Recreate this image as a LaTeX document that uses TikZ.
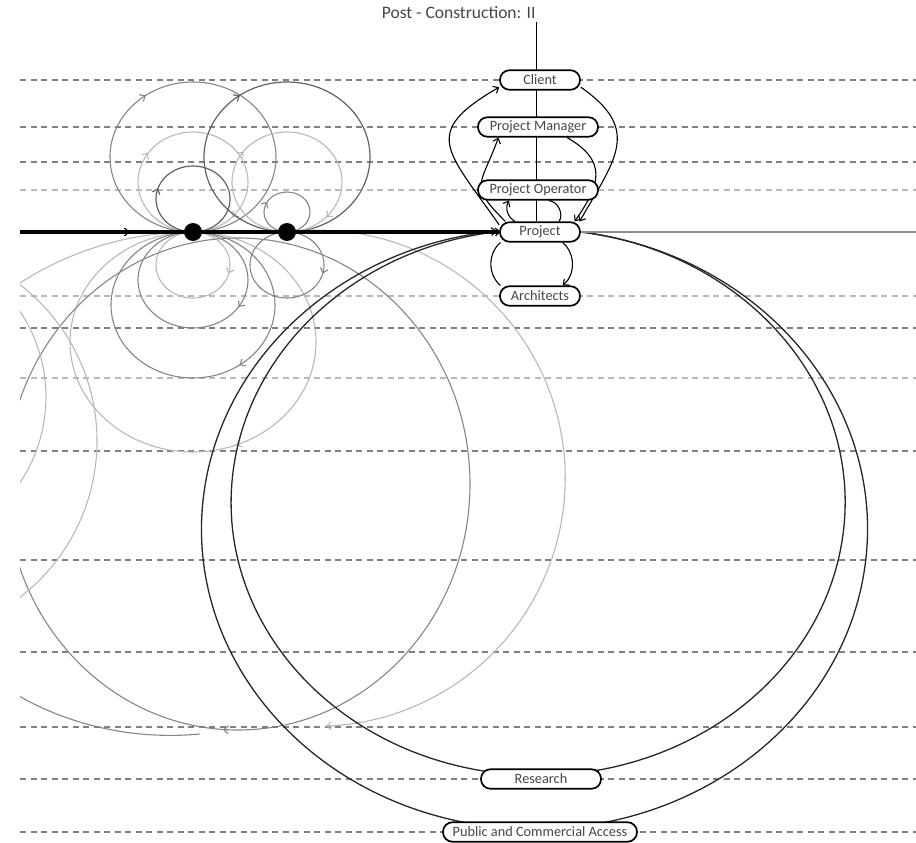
\documentclass[tikz,border=0pt]{standalone}
\usepackage{fontspec}
\setmainfont{Carlito}
\usetikzlibrary{arrows.meta,decorations.markings,backgrounds}
\definecolor{inkgray}{RGB}{70,70,70}

\tikzset{
  actor/.style={draw, line width=1.7pt, fill=white, rounded corners=9.5pt,
    minimum height=19.5pt, inner sep=0pt, text=inkgray,
    font=\fontsize{14.3}{14.3}\selectfont},
  dot/.style={circle, fill=black, minimum size=18pt, inner sep=0pt},
  guide/.style={dash pattern=on 6pt off 4.5pt, line width=1.4pt},
  link/.style={line width=1.1pt},
  tip/.style={-{Straight Barb[length=4.5pt,width=8pt]}},
  flow/.style={postaction=decorate, decoration={markings,
    mark=at position #1 with {\arrow{Straight Barb[length=4.5pt,width=8pt]}}}},
  flows/.style 2 args={postaction=decorate, decoration={markings,
    mark=at position #1 with {\arrow{Straight Barb[length=4.5pt,width=8pt]}},
    mark=at position #2 with {\arrow{Straight Barb[length=4.5pt,width=8pt]}}}},
  faint/.style={draw=black!28, line width=1.1pt},
  soft/.style={draw=black!48, line width=1.1pt},
  firm/.style={draw=black!62, line width=1.2pt}
}

\begin{document}
\begin{tikzpicture}[x=1pt,y=1pt]
\useasboundingbox (0,0) rectangle (916,-843);

% title and stakeholders
\node[font=\fontsize{17.5}{17.5}\selectfont, text=inkgray, anchor=east] (ttl) at (539,-13) {Post - Construction: II};
\node[actor, minimum width=80pt]  (cli)  at (540,-80)  {Client};
\node[actor, minimum width=120pt] (pm)   at (538,-127) {Project Manager};
\node[actor, minimum width=120pt] (po)   at (538,-190) {Project Operator};
\node[actor, minimum width=80pt]  (prj)  at (540,-232) {Project};
\node[actor, minimum width=80pt]  (arch) at (540,-296) {Architects};
\node[actor, minimum width=120pt] (res)  at (541,-779) {Research};
\node[actor, minimum width=194pt] (pub)  at (540,-832) {Public and Commercial Access};
\node[dot] (dA) at (193,-232) {};
\node[dot] (dB) at (287,-232) {};
\coordinate (lstart) at (20,-232);
\coordinate (rend) at (916,-232);
\coordinate (axtop) at (536,-22);
\coordinate (xtop) at (238,-238);

\begin{scope}[on background layer]
\clip (20,0) rectangle (916,-843);
% horizontal levels
\foreach \yy/\cc in {80/50,127/50,162/50,190/28,296/28,328/50,378/28,451/50,560/50,652/50,727/50,779/50,832/50}
  \draw[guide, black!\cc] (20,-\yy) -- (916,-\yy);

% loops above the timeline
\draw[soft, flow=0.40] (dA) arc[start angle=270, end angle=-90, x radius=83, y radius=75];
\draw[faint, flows={0.345}{0.87}] (dA) arc[start angle=270, end angle=-90, x radius=55, y radius=50];
\draw[firm, flow=0.30] (dA) arc[start angle=270, end angle=-90, x radius=37, y radius=33];
\draw[firm, flow=0.40] (dB) arc[start angle=270, end angle=-90, x radius=83, y radius=75];
\draw[faint, flows={0.35}{0.87}] (dB) arc[start angle=270, end angle=-90, x radius=55, y radius=50];
\draw[soft, flow=0.33] (dB) arc[start angle=270, end angle=-90, x radius=23, y radius=20];

% loops below the timeline
\draw[faint, flow=0.29] (dA) arc[start angle=90, end angle=-270, x radius=37, y radius=33];
\draw[soft, flow=0.34] (dA) arc[start angle=90, end angle=-270, x radius=55, y radius=48];
\draw[soft, flow=0.40] (dA) arc[start angle=90, end angle=-270, x radius=82, y radius=73];
\draw[faint, flow=0.44] (dA) arc[start angle=90, end angle=-270, x radius=123, y radius=110];
\draw[soft, flow=0.29] (dB) arc[start angle=90, end angle=-270, x radius=37, y radius=33];

% wide loops to the left
\draw[soft, flow=0.51] (xtop) arc[start angle=90, end angle=-270, x radius=232, y radius=246];
\draw[faint, tip] (dB) arc[start angle=97, end angle=-88, radius=248];
\draw[soft] (200,-734) arc[start angle=-84, end angle=-160, x radius=282, y radius=251];
\draw[faint] (dA) arc[start angle=90, end angle=130, radius=319];
\draw[faint] (-100,-441) ++(55:197) arc[start angle=55, end angle=-55, radius=197];
\draw[faint] (-108,-397) ++(35:154) arc[start angle=35, end angle=-35, radius=154];

% long cycles through research and public access
\draw[link, black!85, line width=1.3pt, tip] (prj.east) arc[start angle=82, end angle=-263, x radius=307, y radius=273];
\draw[link, black!85, line width=1.3pt, tip] (prj.east) arc[start angle=82, end angle=-263.5, x radius=333, y radius=300];
\end{scope}

\begin{scope}[on background layer]
\draw[line width=0.9pt] (axtop) -- (axtop |- prj.north);
% cycles around the project
\draw[link, tip] (prj.170) to[out=125, in=210, looseness=1.7] (cli.190);
\draw[link, tip] (cli.-10) to[out=-35, in=60, looseness=1.4] (prj.15);
\draw[link, tip] (prj.163) to[out=135, in=250, looseness=1.6] (pm.195);
\draw[link, tip] (pm.-20) to[out=-30, in=55, looseness=1.4] (prj.17);
\draw[link, tip] (prj.157) to[bend left=45] (po.200);
\draw[link] (po.-45) to[bend left=60] (prj.29);
\draw[link, tip] (prj.-25) to[bend left=50] (arch.25);
\draw[link] (arch.165) to[bend left=50] (prj.195);
% timeline
\draw[line width=3.4pt, postaction=decorate, decoration={markings,
  mark=at position 0.23 with {\arrow[line width=1.1pt]{Straight Barb[length=5pt,width=8pt]}}}]
  (lstart) -- (prj.west);
\draw[line width=2pt, black!45] (prj.east) -- (rend);
\end{scope}
\end{tikzpicture}
\end{document}
